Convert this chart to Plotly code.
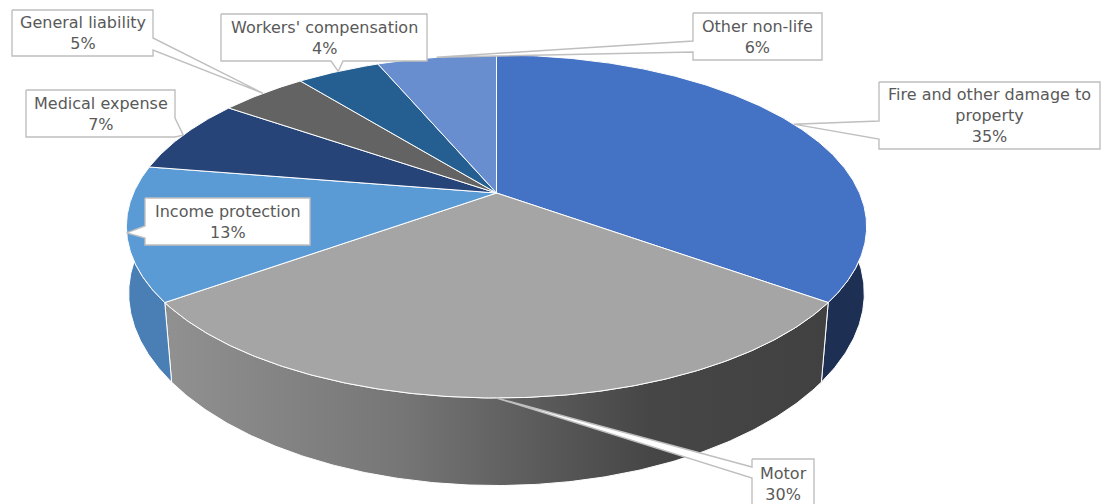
import textwrap
import numpy as np
import plotly.graph_objects as go

# Non-life premium split by line of business (share of total, %)
categories = [
    "Fire and other damage to property",
    "Motor",
    "Income protection",
    "Medical expense",
    "General liability",
    "Workers' compensation",
    "Other non-life",
]
shares = [35.0, 30.0, 12.6, 7.1, 4.6, 4.4, 6.3]

top_colors = ["#4472C4", "#A5A5A5", "#5B9BD5", "#264478", "#636363", "#255E91", "#698ED0"]
side_colors = ["#1E2F54", "#6A6A6A", "#4A7FB6", "#1B3157", "#474747", "#1B4469", "#4C68A0"]

# Callout boxes (x0, y0, x1, y1), side carrying the pointer, pointer base on that side
callouts = [
    ((879, 82, 1100, 149), "left", (121, 139)),
    ((752, 459, 814, 515), "left", (467, 478)),
    ((145, 198, 310, 245), "left", (226, 238)),
    ((26, 90, 175, 137), "right", (118, 137)),
    ((12, 10, 153, 56), "right", (38, 50)),
    ((221, 14, 427, 61), "bottom", (331, 343)),
    ((693, 13, 822, 60), "left", (41, 52)),
]

W, H = 1101, 504

# Perspective disc: centre, radii, depth factor, thickness
CX, CY, RX, RY, K = 496.5, 193.0, 363.0, 165.0, 0.195
THICK, CONVERGE = 70.5, 0.035


def top_point(theta):
    u, v = np.sin(theta), np.cos(theta)
    s = 1.0 / (1.0 + K * v)
    return CX + RX * u * s, CY - RY * v * s, s


def bottom_point(theta):
    x, y, s = top_point(theta)
    v = np.cos(theta)
    m = 1.0 - CONVERGE * np.clip(-v, 0.0, None)
    return CX + m * (x - CX), y + THICK * s


fracs = np.array(shares) / sum(shares)
bounds = np.concatenate([[0.0], np.cumsum(fracs)]) * 2 * np.pi

fig = go.Figure()

# side walls
for i in range(len(categories)):
    a0, a1 = bounds[i], bounds[i + 1]
    n = max(3, int(np.degrees(a1 - a0) * 2))
    th = np.linspace(a0, a1, n)
    tx, ty, _ = top_point(th)
    bx, by = bottom_point(th)
    xs = np.concatenate([tx, bx[::-1], tx[:1]])
    ys = np.concatenate([ty, by[::-1], ty[:1]])
    kw = dict(fillcolor=side_colors[i])
    if categories[i] == "Motor":
        lo, hi = float(bx.min()), float(tx.max())
        kw = dict(fillgradient=dict(
            type="horizontal", start=lo, stop=hi,
            colorscale=[[0, "#909090"], [0.35, "#767676"], [0.59, "#575757"],
                        [0.73, "#464646"], [1, "#414141"]]))
    fig.add_trace(go.Scatter(x=xs, y=ys, mode="lines", fill="toself",
                             line=dict(color="white", width=1),
                             hoverinfo="skip", showlegend=False, **kw))

# top faces
for i in range(len(categories)):
    a0, a1 = bounds[i], bounds[i + 1]
    n = max(3, int(np.degrees(a1 - a0) * 2))
    th = np.linspace(a0, a1, n)
    tx, ty, _ = top_point(th)
    xs = np.concatenate([[CX], tx, [CX]])
    ys = np.concatenate([[CY], ty, [CY]])
    fig.add_trace(go.Scatter(x=xs, y=ys, mode="lines", fill="toself",
                             fillcolor=top_colors[i],
                             line=dict(color="white", width=1),
                             hoverinfo="skip", showlegend=False))

# data-label callouts pointing at each slice's mid-arc
for i, (box, side, base) in enumerate(callouts):
    mid = 0.5 * (bounds[i] + bounds[i + 1])
    px, py, _ = top_point(mid)
    x0, y0, x1, y1 = box
    b0, b1 = base
    tip = (float(px), float(py))
    if side == "top":
        pts = [(x0, y0), (b0, y0), tip, (b1, y0), (x1, y0), (x1, y1), (x0, y1)]
    elif side == "right":
        pts = [(x0, y0), (x1, y0), (x1, b0), tip, (x1, b1), (x1, y1), (x0, y1)]
    elif side == "bottom":
        pts = [(x0, y0), (x1, y0), (x1, y1), (b1, y1), tip, (b0, y1), (x0, y1)]
    else:
        pts = [(x0, y0), (x1, y0), (x1, y1), (x0, y1), (x0, b1), tip, (x0, b0)]
    pts.append(pts[0])
    fig.add_trace(go.Scatter(x=[p[0] for p in pts], y=[p[1] for p in pts],
                             mode="lines", fill="toself", fillcolor="white",
                             line=dict(color="#BFBFBF", width=1.4),
                             hoverinfo="skip", showlegend=False))
    text = "<br>".join(textwrap.wrap(categories[i], 24)) + f"<br>{shares[i]:.0f}%"
    fig.add_annotation(x=(x0 + min(x1, W)) / 2, y=(y0 + min(y1, 508)) / 2,
                       text=text, showarrow=False, xref="x", yref="y",
                       font=dict(family="DejaVu Sans", size=16, color="#595959"))

fig.update_layout(
    width=W, height=H,
    margin=dict(l=0, r=0, t=0, b=0),
    paper_bgcolor="white", plot_bgcolor="white",
    xaxis=dict(range=[0, W], visible=False, fixedrange=True),
    yaxis=dict(range=[H, 0], visible=False, fixedrange=True),
)

fig.write_html("out.html")
